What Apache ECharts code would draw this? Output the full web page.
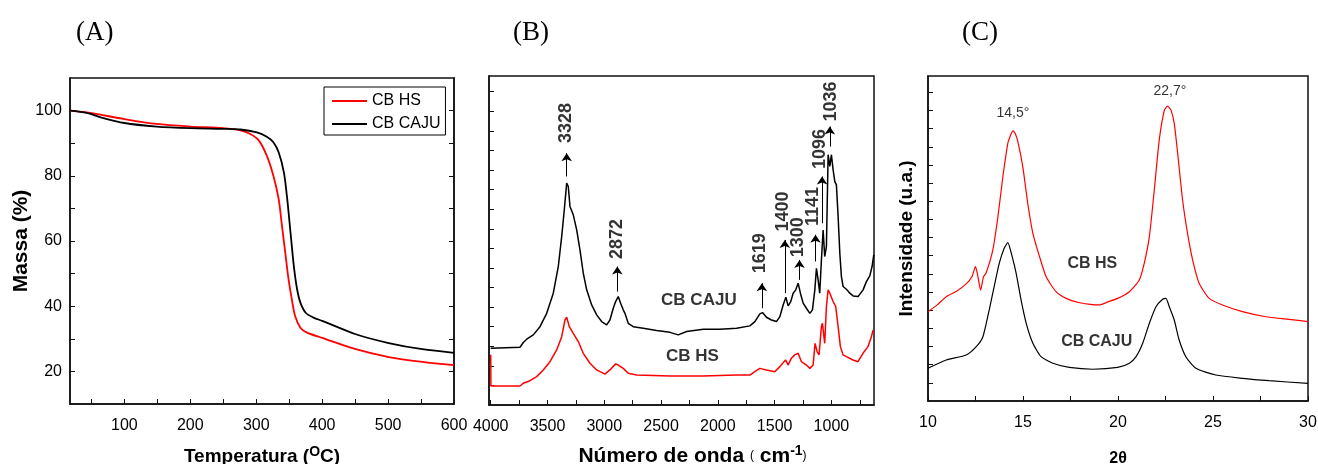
<!DOCTYPE html>
<html>
<head>
<meta charset="utf-8">
<script src="https://cdn.jsdelivr.net/npm/echarts@6/dist/echarts.min.js"></script>
<style>
  html, body { margin: 0; padding: 0; background: #fff; }
  #main { width: 1318px; height: 464px; }
</style>
</head>
<body>
<div id="main"></div>
<script>
'use strict';

/* (A) TGA: [temperatura, massa %] */
var tgaHS = [[18,100],[48,99.3],[100,97.4],[149,95.9],[200,95.1],[250,94.6],[276,93.9],[291,92.8],
  [304,90.8],[316,86.2],[326,80],[334,72.9],[339,64.7],[344,56.5],[349,48.3],[354,42.1],[359,37],
  [367,33.4],[377,31.9],[400,30.3],[451,26.8],[501,24.4],[552,22.9],[600,21.9]];
var tgaCAJU = [[18,100],[43,99.3],[63,98],[100,96.2],[149,95.1],[200,94.6],[250,94.4],[276,94.2],
  [301,93.3],[316,92],[326,90.3],[334,87.2],[342,81],[347,72.9],[352,62.6],[357,52.4],[362,45.2],
  [367,41.1],[375,38],[387,36.5],[400,35.5],[451,31.4],[501,28.7],[552,26.8],[600,25.7]];

/* (B) FTIR: [numero de onda, intensidade u.a.] */
var ftirCAJU = [[4000,2.90],[3742,2.95],[3713,3.19],[3683,3.36],[3625,3.58],[3566,4.00],[3507,4.68],
  [3449,5.71],[3405,7.07],[3375,8.60],[3352,9.97],[3331,11.33],[3317,11.16],[3302,10.14],[3273,9.71],
  [3243,8.94],[3214,7.92],[3185,6.73],[3155,5.88],[3111,5.11],[3067,4.60],[3023,4.26],[2979,4.09],
  [2950,4.34],[2921,4.94],[2900,5.28],[2877,5.54],[2856,5.20],[2833,4.86],[2818,4.68],[2789,4.17],
  [2745,4.00],[2657,3.92],[2539,3.80],[2422,3.71],[2349,3.58],[2275,3.75],[2129,3.87],[1982,3.87],
  [1835,3.92],[1718,4.04],[1674,4.26],[1630,4.65],[1607,4.72],[1572,4.48],[1528,4.34],[1484,4.26],
  [1454,4.51],[1425,5.11],[1401,5.50],[1381,5.06],[1358,5.28],[1337,5.71],[1314,5.88],[1293,6.22],
  [1273,5.71],[1249,5.20],[1220,4.94],[1190,4.68],[1167,4.86],[1146,5.88],[1132,6.98],[1117,6.39],
  [1103,5.71],[1088,7.41],[1073,8.94],[1059,7.58],[1044,8.09],[1029,12.78],[1014,12.18],[1000,12.78],
  [985,12.01],[970,11.41],[956,11.24],[941,9.63],[926,7.75],[912,6.56],[897,6.05],[868,5.91],
  [838,5.71],[809,5.57],[765,5.54],[721,5.88],[692,6.30],[662,6.59],[642,7.07],[627,7.67]];
var ftirHS = [[4000,2.56],[3998,0.97],[3742,0.97],[3713,1.11],[3654,1.24],[3595,1.45],[3537,1.79],
  [3478,2.21],[3419,2.81],[3375,3.49],[3346,4.34],[3331,4.48],[3308,4.00],[3273,3.66],[3229,3.24],
  [3185,2.64],[3126,2.13],[3067,1.79],[2994,1.58],[2950,1.79],[2900,2.10],[2877,2.04],[2833,1.87],
  [2789,1.62],[2715,1.53],[2422,1.48],[2129,1.48],[1835,1.53],[1718,1.53],[1674,1.70],[1630,1.87],
  [1572,1.79],[1499,1.70],[1454,1.96],[1404,2.30],[1381,2.04],[1352,2.39],[1323,2.56],[1293,2.64],
  [1264,2.21],[1220,2.04],[1190,1.87],[1161,2.04],[1144,3.15],[1126,2.73],[1109,2.56],[1088,4.00],
  [1079,4.17],[1059,3.15],[1044,5.03],[1029,5.88],[1014,5.71],[1000,5.79],[985,5.28],[962,5.03],
  [941,4.00],[921,2.98],[898,2.56],[868,2.47],[810,2.30],[766,2.21],[722,2.64],[678,2.98],
  [648,3.49],[633,3.83]];
/* picos: [posicao do texto, altura do texto, posicao da seta, inicio da seta, fim da seta, texto] */
var ftirPeaks = [[3337,14.4,3331,11.67,12.86,'3328'],[2885,8.48,2885,5.79,7.07,'2872'],
  [1627,7.75,1612,4.94,6.22,'1619'],[1425,9.88,1410,5.71,8.43,'1400'],[1290,8.57,1281,6.39,7.41,'1300'],
  [1158,10.14,1140,7.33,8.69,'1141'],[1102,13.07,1082,9.28,11.67,'1096'],[1000,15.5,1014,13.2,14.22,'1036']];
var ftirNames = [[2167,5.33,'CB CAJU'],[2223,2.47,'CB HS']];

/* (C) DRX: [2theta, intensidade u.a.] */
var xrdHS = [[10,4.92],[10.47,5.28],[10.96,5.74],[11.52,6.06],[12.01,6.45],[12.31,6.84],[12.5,7.4],
  [12.63,6.84],[12.77,6.11],[12.92,6.84],[13.06,7.05],[13.41,8.31],[13.68,10.15],[13.94,12.35],
  [14.2,14.19],[14.33,14.6],[14.47,14.88],[14.6,14.7],[14.73,14.28],[14.99,12.9],[15.25,10.89],
  [15.52,9.23],[15.87,7.95],[16.22,6.84],[16.74,6.02],[17.27,5.65],[17.97,5.41],[18.44,5.34],
  [19.02,5.29],[19.5,5.47],[19.98,5.65],[20.6,6.02],[21.12,6.66],[21.38,7.58],[21.65,9.05],
  [21.91,11.62],[22.17,14.37],[22.44,16.02],[22.61,16.24],[22.79,16.02],[22.96,15.29],[23.14,13.64],
  [23.4,11.07],[23.66,9.23],[23.93,7.76],[24.27,6.48],[24.8,5.65],[25.5,5.29],[26.55,4.92],
  [27.78,4.64],[29,4.5],[30,4.37]];
var xrdCAJU = [[10,1.8],[10.96,2.26],[12.01,2.53],[12.54,2.99],[12.89,3.54],[13.22,5.01],[13.48,6.29],
  [13.75,7.58],[14.01,8.41],[14.2,8.72],[14.43,7.95],[14.64,7.03],[14.9,5.56],[15.17,4.28],
  [15.52,3.18],[15.95,2.44],[16.57,2.08],[17.44,1.85],[18.67,1.75],[19.98,1.85],[20.6,2.08],
  [20.95,2.44],[21.3,3.18],[21.65,4.28],[22,5.19],[22.35,5.6],[22.52,5.65],[22.7,5.19],[22.96,4.46],
  [23.22,3.36],[23.57,2.44],[24.1,1.8],[25.15,1.43],[26.55,1.25],[27.95,1.12],[30,0.97]];
var xrdPeaks = [[14.47,15.83,'14,5°'],[22.73,17.08,'22,7°']];
var xrdNames = [[18.65,7.58,'CB HS'],[18.88,3.27,'CB CAJU']];

/* marcas dos eixos */
var tempLabels = [100,200,300,400,500,600];
var tempTicks = [50,100,150,200,250,300,350,400,450,500,550,600];
var massLabels = [20,40,60,80,100];
var massTicks = [20,30,40,50,60,70,80,90,100];
var waveLabels = [4000,3500,3000,2500,2000,1500,1000];
var waveTicks = [4000,3750,3500,3250,3000,2750,2500,2250,2000,1750,1500,1250,1000,750];
var ftirYTicks = [1,2,3,4,5,6,7,8,9,10,11,12,13,14,15,16];
var thetaLabels = [10,15,20,25,30];
var thetaTicks = [10,12.5,15,17.5,20,22.5,25,27.5,30];
var xrdYTicks = [1,2,3,4,5,6,7,8,9,10,11,12,13,14,15,16,17];

var font = 'Arial, "Liberation Sans", sans-serif';
var serif = '"Liberation Serif", "Times New Roman", serif';

function frame(left, top, width, height) {
  return { left: left, top: top, width: width, height: height, show: true,
    outerBoundsMode: 'none', containLabel: false,
    borderColor: '#111', borderWidth: 1.5, backgroundColor: 'transparent' };
}
function tick(values) {
  return { show: true, inside: true, length: 5, customValues: values, lineStyle: { color: '#111', width: 1 } };
}
function numLabels(values, margin) {
  return { customValues: values, margin: margin, color: '#000', fontSize: 16, fontFamily: font,
    formatter: function (v) { return String(v); } };
}
function panelTitle(text, left) {
  return { text: text, left: left, top: 14,
    textStyle: { fontFamily: serif, fontSize: 27, fontWeight: 'normal', color: '#000' } };
}
function textSeries(name, xi, yi, data, style) {
  return { name: name, type: 'scatter', xAxisIndex: xi, yAxisIndex: yi, symbolSize: 0, silent: true,
    data: data,
    label: Object.assign({ show: true, position: 'inside', color: '#000', fontFamily: font,
      formatter: function (p) { return p.data[p.data.length - 1]; } }, style) };
}
var axLine = { show: true, lineStyle: { color: '#111', width: 1.5 } };

var myChart = echarts.init(document.getElementById('main'));

var option = {
  backgroundColor: '#fff',
  animation: false,
  title: [panelTitle('(A)', 71), panelTitle('(B)', 508), panelTitle('(C)', 957)],
  legend: {
    data: ['CB HS', 'CB CAJU'],
    icon: 'rect',
    orient: 'vertical',
    left: 324, top: 87,
    padding: [6, 5, 3, 8],
    itemGap: 7,
    itemWidth: 35, itemHeight: 2,
    borderColor: '#000', borderWidth: 1,
    textStyle: { fontSize: 16, fontFamily: font, color: '#000', lineHeight: 16 }
  },
  grid: [
    frame(70, 78, 384, 326),
    frame(489, 76, 385, 329),
    frame(928, 76, 380, 325)
  ],
  xAxis: [
    { type: 'value', gridIndex: 0, min: 17.5, max: 600,
      axisLine: axLine, axisTick: tick(tempTicks), splitLine: { show: false },
      axisLabel: numLabels(tempLabels, 14),
      name: '{b|Temperatura (}{s|O}{b|C)}', nameLocation: 'middle', nameGap: 41,
      nameTextStyle: { rich: {
        b: { fontSize: 19, fontWeight: 'bold', fontFamily: font, color: '#000' },
        s: { fontSize: 14, fontWeight: 'bold', fontFamily: font, color: '#000', padding: [0, 0, 9, 0] } } } },
    { type: 'value', gridIndex: 1, min: 625, max: 4015, inverse: true,
      axisLine: axLine, axisTick: tick(waveTicks), splitLine: { show: false },
      axisLabel: numLabels(waveLabels, 14),
      name: '{b|Número de onda }{p|(}{b| cm}{s|-1}{p|)}', nameLocation: 'middle', nameGap: 39,
      nameTextStyle: { padding: [0, 0, 0, 22], rich: {
        b: { fontSize: 21, fontWeight: 'bold', fontFamily: font, color: '#000' },
        p: { fontSize: 12, fontFamily: font, color: '#000' },
        s: { fontSize: 14, fontWeight: 'bold', fontFamily: font, color: '#000', padding: [0, 0, 10, 0] } } } },
    { type: 'value', gridIndex: 2, min: 10, max: 30,
      axisLine: axLine, axisTick: tick(thetaTicks), splitLine: { show: false },
      axisLabel: numLabels(thetaLabels, 14),
      name: '2θ', nameLocation: 'middle', nameGap: 50,
      nameTextStyle: { fontSize: 16, fontWeight: 'bold', fontFamily: font, color: '#000' } }
  ],
  yAxis: [
    { type: 'value', gridIndex: 0, min: 10, max: 110,
      axisLine: axLine, axisTick: tick(massTicks), splitLine: { show: false },
      axisLabel: numLabels(massLabels, 8),
      name: 'Massa (%)', nameLocation: 'middle', nameGap: 36,
      nameTextStyle: { fontSize: 21, fontWeight: 'bold', fontFamily: font, color: '#000' } },
    { type: 'value', gridIndex: 0, min: 10, max: 110, position: 'right',
      axisLine: axLine, axisTick: tick(massTicks), splitLine: { show: false },
      axisLabel: { show: false } },
    { type: 'value', gridIndex: 1, min: 0, max: 16.8,
      axisLine: axLine, axisTick: tick(ftirYTicks), splitLine: { show: false },
      axisLabel: { show: false } },
    { type: 'value', gridIndex: 2, min: 0, max: 17.9,
      axisLine: axLine, axisTick: tick(xrdYTicks), splitLine: { show: false },
      axisLabel: { show: false },
      name: 'Intensidade (u.a.)', nameLocation: 'middle', nameGap: 12,
      nameTextStyle: { fontSize: 19, fontWeight: 'bold', fontFamily: font, color: '#000' } }
  ],
  series: [
    { name: 'CB HS', type: 'line', xAxisIndex: 0, yAxisIndex: 0, data: tgaHS,
      smooth: 0.3, symbol: 'none', lineStyle: { color: '#ff0000', width: 1.8 }, itemStyle: { color: '#ff0000' } },
    { name: 'CB CAJU', type: 'line', xAxisIndex: 0, yAxisIndex: 0, data: tgaCAJU,
      smooth: 0.3, symbol: 'none', lineStyle: { color: '#000', width: 1.8 }, itemStyle: { color: '#000' } },

    { name: 'FTIR CB CAJU', type: 'line', xAxisIndex: 1, yAxisIndex: 2, data: ftirCAJU,
      symbol: 'none', lineStyle: { color: '#000', width: 1.5 },
      markLine: {
        silent: true, symbol: ['none', 'arrow'], symbolSize: 8,
        label: { show: false },
        lineStyle: { color: '#000', width: 1, type: 'solid' },
        data: ftirPeaks.map(function (p) { return [{ coord: [p[2], p[3]] }, { coord: [p[2], p[4]] }]; })
      } },
    { name: 'FTIR CB HS', type: 'line', xAxisIndex: 1, yAxisIndex: 2, data: ftirHS,
      symbol: 'none', lineStyle: { color: '#ff0000', width: 1.5 } },
    textSeries('FTIR picos', 1, 2, ftirPeaks.map(function (p) { return [p[0], p[1], p[5]]; }),
      { rotate: 90, fontSize: 18, fontWeight: 'bold' }),
    textSeries('FTIR nomes', 1, 2, ftirNames, { fontSize: 17, fontWeight: 'bold' }),

    { name: 'DRX CB HS', type: 'line', xAxisIndex: 2, yAxisIndex: 3, data: xrdHS,
      smooth: 0.2, symbol: 'none', lineStyle: { color: '#ff0000', width: 1.2 } },
    { name: 'DRX CB CAJU', type: 'line', xAxisIndex: 2, yAxisIndex: 3, data: xrdCAJU,
      smooth: 0.2, symbol: 'none', lineStyle: { color: '#000', width: 1.2 } },
    textSeries('DRX picos', 2, 3, xrdPeaks, { fontSize: 14 }),
    textSeries('DRX nomes', 2, 3, xrdNames, { fontSize: 16, fontWeight: 'bold' })
  ]
};

myChart.setOption(option);
</script>
</body>
</html>
